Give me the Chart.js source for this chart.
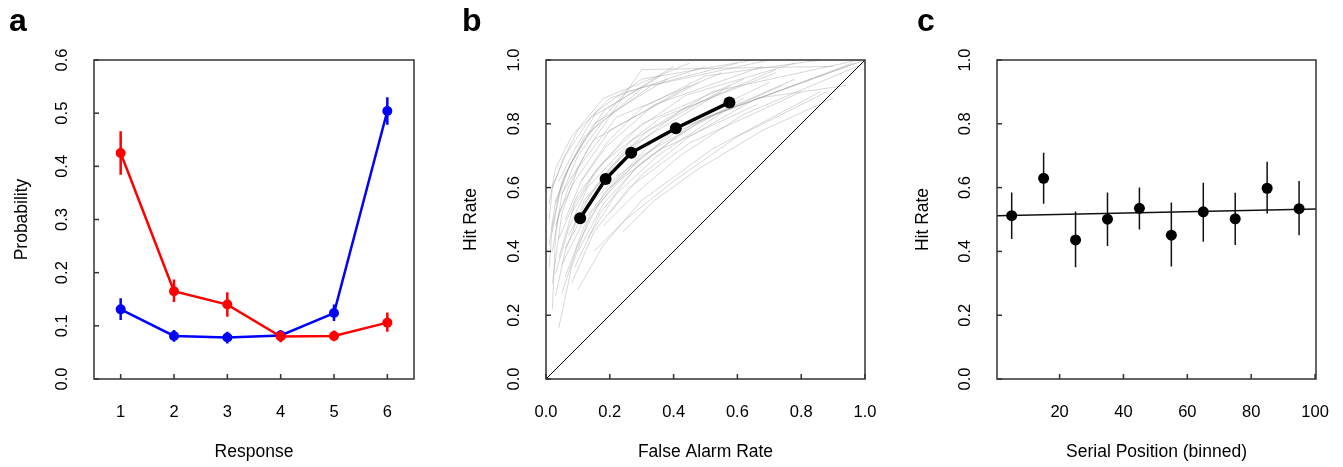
<!DOCTYPE html>
<html>
<head>
<meta charset="utf-8">
<script src="https://cdn.jsdelivr.net/npm/chart.js@4.4.1/dist/chart.umd.min.js"></script>
<style>
  body { margin: 0; background: #fff; }
  #wrap { position: relative; width: 1343px; height: 467px; }
  canvas { position: absolute; top: 0; }
</style>
</head>
<body>
<div id="wrap">
  <canvas id="chartA" width="450" height="467" style="left:0px"></canvas>
  <canvas id="chartB" width="443" height="467" style="left:450px"></canvas>
  <canvas id="chartC" width="450" height="467" style="left:893px"></canvas>
</div>
<script>
const FONT = '"Liberation Sans", Arial, Helvetica, sans-serif';

// ---- panel a : response probabilities ----
const responses = [1, 2, 3, 4, 5, 6];
const redMean = [0.425, 0.165, 0.140, 0.080, 0.081, 0.106];
const redLow  = [0.384, 0.145, 0.117, 0.069, 0.071, 0.089];
const redHigh = [0.466, 0.187, 0.163, 0.091, 0.091, 0.125];
const blueMean = [0.131, 0.081, 0.078, 0.082, 0.124, 0.504];
const blueLow  = [0.111, 0.070, 0.067, 0.073, 0.109, 0.478];
const blueHigh = [0.152, 0.092, 0.089, 0.092, 0.140, 0.530];
const probTicks = [0, 0.1, 0.2, 0.3, 0.4, 0.5, 0.6];
const probTickLabels = ['0.0', '0.1', '0.2', '0.3', '0.4', '0.5', '0.6'];
const responseTickLabels = ['1', '2', '3', '4', '5', '6'];

// ---- panel b : ROC curves ----
const meanFA = [0.107, 0.187, 0.267, 0.407, 0.575];
const meanHR = [0.504, 0.627, 0.709, 0.786, 0.867];
// one row per subject
const subjectFA = [
  [0.02, 0.03, 0.05, 0.15, 0.45],
  [0.04, 0.08, 0.14, 0.30, 0.62],
  [0.02, 0.05, 0.10, 0.22, 0.55],
  [0.05, 0.10, 0.18, 0.35, 0.70],
  [0.01, 0.03, 0.08, 0.18, 0.40],
  [0.06, 0.12, 0.22, 0.40, 0.96],
  [0.03, 0.07, 0.13, 0.30, 0.90],
  [0.08, 0.15, 0.26, 0.45, 0.80],
  [0.02, 0.05, 0.10, 0.20, 0.50],
  [0.10, 0.18, 0.30, 0.50, 1.00],
  [0.04, 0.09, 0.16, 0.30, 0.62],
  [0.15, 0.25, 0.40, 0.60, 0.88],
  [0.03, 0.06, 0.12, 0.25, 0.55],
  [0.01, 0.02, 0.06, 0.14, 0.36],
  [0.07, 0.14, 0.24, 0.42, 0.72],
  [0.05, 0.12, 0.20, 0.36, 0.66],
  [0.12, 0.20, 0.32, 0.52, 0.98],
  [0.02, 0.04, 0.09, 0.20, 0.48],
  [0.03, 0.06, 0.12, 0.25, 0.60],
  [0.09, 0.17, 0.28, 0.46, 0.78],
  [0.01, 0.02, 0.05, 0.12, 0.30],
  [0.18, 0.28, 0.42, 0.62, 1.00],
  [0.04, 0.09, 0.16, 0.30, 0.65],
  [0.06, 0.11, 0.19, 0.34, 0.68],
  [0.24, 0.34, 0.48, 0.68, 0.90],
  [0.02, 0.04, 0.07, 0.15, 0.38],
  [0.10, 0.18, 0.30, 0.52, 0.86],
  [0.05, 0.10, 0.18, 0.33, 0.70],
  [0.13, 0.22, 0.35, 0.56, 0.97],
  [0.03, 0.07, 0.13, 0.27, 0.58],
  [0.08, 0.15, 0.25, 0.44, 0.78],
  [0.01, 0.03, 0.08, 0.18, 0.45],
  [0.20, 0.30, 0.45, 0.66, 0.94],
  [0.04, 0.10, 0.18, 0.36, 0.72],
  [0.11, 0.19, 0.30, 0.50, 0.86],
  [0.06, 0.13, 0.23, 0.40, 0.74]
];
const subjectHR = [
  [0.22, 0.45, 0.58, 0.75, 0.92],
  [0.16, 0.35, 0.52, 0.70, 0.88],
  [0.30, 0.52, 0.66, 0.82, 0.96],
  [0.27, 0.42, 0.58, 0.76, 0.93],
  [0.42, 0.56, 0.68, 0.84, 0.98],
  [0.32, 0.48, 0.62, 0.78, 0.99],
  [0.48, 0.60, 0.72, 0.97, 0.98],
  [0.30, 0.46, 0.60, 0.74, 0.90],
  [0.60, 0.68, 0.78, 0.88, 0.98],
  [0.40, 0.55, 0.68, 0.82, 1.00],
  [0.38, 0.55, 0.66, 0.80, 0.94],
  [0.40, 0.50, 0.62, 0.76, 0.90],
  [0.26, 0.40, 0.56, 0.72, 0.90],
  [0.50, 0.60, 0.70, 0.82, 0.95],
  [0.45, 0.58, 0.70, 0.84, 0.97],
  [0.36, 0.50, 0.60, 0.72, 0.86],
  [0.55, 0.66, 0.78, 0.90, 1.00],
  [0.40, 0.52, 0.62, 0.78, 0.93],
  [0.55, 0.64, 0.75, 0.90, 0.99],
  [0.35, 0.52, 0.66, 0.80, 0.94],
  [0.35, 0.48, 0.62, 0.76, 0.91],
  [0.48, 0.58, 0.70, 0.83, 0.99],
  [0.62, 0.72, 0.84, 0.94, 1.00],
  [0.50, 0.62, 0.73, 0.86, 0.98],
  [0.46, 0.56, 0.66, 0.78, 0.88],
  [0.46, 0.57, 0.66, 0.80, 0.94],
  [0.28, 0.42, 0.56, 0.72, 0.90],
  [0.58, 0.70, 0.81, 0.92, 1.00],
  [0.44, 0.58, 0.70, 0.84, 0.99],
  [0.33, 0.47, 0.60, 0.75, 0.92],
  [0.52, 0.64, 0.76, 0.89, 0.99],
  [0.55, 0.66, 0.76, 0.88, 0.99],
  [0.52, 0.64, 0.76, 0.88, 0.92],
  [0.44, 0.58, 0.68, 0.82, 0.96],
  [0.62, 0.74, 0.85, 0.95, 1.00],
  [0.41, 0.54, 0.64, 0.77, 0.92]
];
const chanceLine = [0, 1];
const unitTicks = [0, 0.2, 0.4, 0.6, 0.8, 1.0];
const unitTickLabels = ['0.0', '0.2', '0.4', '0.6', '0.8', '1.0'];

// ---- panel c : serial position ----
const serialBins = [5, 15, 25, 35, 45, 55, 65, 75, 85, 95];
const hitMean = [0.512, 0.629, 0.436, 0.501, 0.535, 0.451, 0.524, 0.502, 0.598, 0.534];
const hitLow  = [0.439, 0.549, 0.350, 0.417, 0.469, 0.353, 0.430, 0.420, 0.519, 0.451];
const hitHigh = [0.585, 0.709, 0.525, 0.585, 0.600, 0.553, 0.615, 0.584, 0.681, 0.621];
const fitX = [0.4, 100.3];
const fitY = [0.512, 0.533];
const serialTicks = [20, 40, 60, 80, 100];
const serialTickLabels = ['20', '40', '60', '80', '100'];

// helpers
const pts = (xs, ys) => xs.map((x, i) => ({x, y: ys[i]}));
function errorBars(xs, lo, hi) {
  const out = [];
  xs.forEach((x, i) => out.push({x, y: lo[i]}, {x, y: hi[i]}, {x, y: null}));
  return out;
}

// R-style box, inward ticks, rotated y labels, panel letter
const rFrame = {
  id: 'rFrame',
  afterDatasetsDraw(chart, args, o) {
    const {ctx, chartArea: a, scales: {x, y}} = chart;
    ctx.save();
    ctx.strokeStyle = '#333';
    ctx.lineWidth = 1.5;
    ctx.strokeRect(a.left, a.top, a.right - a.left, a.bottom - a.top);
    ctx.font = '16.5px ' + FONT;
    ctx.fillStyle = '#000';
    ctx.textAlign = 'center';
    ctx.textBaseline = 'middle';
    o.xTicks.forEach((v, i) => {
      const px = x.getPixelForValue(v);
      ctx.beginPath();
      ctx.moveTo(px, a.bottom);
      ctx.lineTo(px, a.bottom - 5);
      ctx.stroke();
      ctx.fillText(o.xLabels[i], px, a.bottom + 33);
    });
    o.yTicks.forEach((v, i) => {
      const py = y.getPixelForValue(v);
      ctx.beginPath();
      ctx.moveTo(a.left, py);
      ctx.lineTo(a.left + 5, py);
      ctx.stroke();
      ctx.save();
      ctx.translate(a.left - 32, py);
      ctx.rotate(-Math.PI / 2);
      ctx.fillText(o.yLabels[i], 0, 0);
      ctx.restore();
    });
    ctx.font = 'bold 32px ' + FONT;
    ctx.textAlign = 'left';
    ctx.textBaseline = 'alphabetic';
    ctx.fillText(o.letter, o.letterX, 31);
    ctx.restore();
  }
};

function axis(min, max, title, size) {
  return {
    type: 'linear',
    min, max,
    grid: {display: false},
    border: {display: false},
    ticks: {display: false},
    title: {display: true, text: title, color: '#000', font: {family: FONT, size: 17.5}, padding: 0},
    afterFit: s => { if (s.isHorizontal()) s.height = size; else s.width = size; }
  };
}

const base = {
  responsive: false,
  animation: false,
  events: [],
  devicePixelRatio: 1,
  plugins: {legend: {display: false}, tooltip: {enabled: false}}
};

// panel a
new Chart(document.getElementById('chartA'), {
  type: 'scatter',
  data: {
    datasets: [
      {data: pts(responses, redMean), order: 0, showLine: true, borderColor: '#ff0000', backgroundColor: '#ff0000',
        borderWidth: 2.5, pointRadius: 5, pointBorderWidth: 0},
      {data: errorBars(responses, redLow, redHigh), order: 0, showLine: true, spanGaps: false,
        borderColor: '#ff0000', borderWidth: 2.5, pointRadius: 0},
      {data: pts(responses, blueMean), order: 1, showLine: true, borderColor: '#0000ff', backgroundColor: '#0000ff',
        borderWidth: 2.5, pointRadius: 5, pointBorderWidth: 0},
      {data: errorBars(responses, blueLow, blueHigh), order: 1, showLine: true, spanGaps: false,
        borderColor: '#0000ff', borderWidth: 2.5, pointRadius: 0}
    ]
  },
  options: {
    ...base,
    layout: {padding: {left: 12, right: 36, top: 60, bottom: 4}},
    scales: {
      x: axis(0.5, 6.5, 'Response', 84),
      y: axis(0, 0.6, 'Probability', 82)
    },
    plugins: {
      ...base.plugins,
      rFrame: {letter: 'a', letterX: 9, xTicks: responses, xLabels: responseTickLabels,
        yTicks: probTicks, yLabels: probTickLabels}
    }
  },
  plugins: [rFrame]
});

// panel b
const subjectSets = subjectFA.map((fa, i) => ({
  data: pts(fa, subjectHR[i]), order: 2, showLine: true,
  borderColor: 'rgba(140,140,140,0.35)', borderWidth: 1, pointRadius: 0
}));
new Chart(document.getElementById('chartB'), {
  type: 'scatter',
  data: {
    datasets: [
      {data: pts(meanFA, meanHR), order: 0, showLine: true, borderColor: '#000', backgroundColor: '#000',
        borderWidth: 3.5, pointRadius: 6, pointBorderWidth: 0},
      {data: pts(chanceLine, chanceLine), order: 1, showLine: true, borderColor: '#000', borderWidth: 1, pointRadius: 0},
      ...subjectSets
    ]
  },
  options: {
    ...base,
    layout: {padding: {left: 11, right: 28, top: 60, bottom: 4}},
    scales: {
      x: axis(0, 1, 'False Alarm Rate', 84),
      y: axis(0, 1, 'Hit Rate', 85)
    },
    plugins: {
      ...base.plugins,
      rFrame: {letter: 'b', letterX: 12, xTicks: unitTicks, xLabels: unitTickLabels,
        yTicks: unitTicks, yLabels: unitTickLabels}
    }
  },
  plugins: [rFrame]
});

// panel c
new Chart(document.getElementById('chartC'), {
  type: 'scatter',
  data: {
    datasets: [
      {data: pts(serialBins, hitMean), order: 0, borderColor: '#000', backgroundColor: '#000',
        pointRadius: 5.5, pointBorderWidth: 0},
      {data: errorBars(serialBins, hitLow, hitHigh), order: 1, showLine: true, spanGaps: false,
        borderColor: '#111', borderWidth: 1.5, pointRadius: 0},
      {data: pts(fitX, fitY), order: 1, showLine: true, borderColor: '#111', borderWidth: 1.5, pointRadius: 0}
    ]
  },
  options: {
    ...base,
    layout: {padding: {left: 19.5, right: 27, top: 60, bottom: 4}},
    scales: {
      x: axis(0.4, 100.3, 'Serial Position (binned)', 84),
      y: axis(0, 1, 'Hit Rate', 84.5)
    },
    plugins: {
      ...base.plugins,
      rFrame: {letter: 'c', letterX: 24, xTicks: serialTicks, xLabels: serialTickLabels,
        yTicks: unitTicks, yLabels: unitTickLabels}
    }
  },
  plugins: [rFrame]
});
</script>
</body>
</html>
